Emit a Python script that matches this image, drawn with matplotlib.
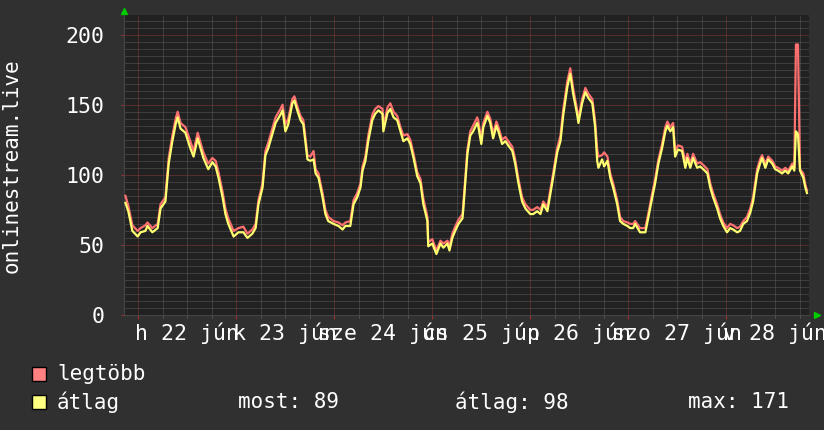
import matplotlib
matplotlib.use('Agg')
import matplotlib.pyplot as plt
from matplotlib.ticker import MultipleLocator

# hours since 22 Jun 00:00
hours = [-3.2, -2.5, -1.5, -0.2, 0.5, 1.7, 2.2, 3.4, 4.7, 5.4, 6.6, 7.4, 8.3, 9.1, 9.6,
         10.3, 11.5, 12.7, 13.5, 14.5, 15.2, 15.9, 17.1, 18.1, 18.9, 19.6, 20.6, 21.3,
         22.0, 23.3, 24.5, 25.7, 26.7, 27.9, 28.7, 29.4, 30.4, 31.1, 31.8, 32.8, 33.6,
         34.8, 35.3, 36.0, 36.7, 37.7, 38.2, 38.9, 39.7, 40.4, 41.4, 42.1, 42.9, 43.4,
         44.1, 45.1, 45.8, 46.5, 47.8, 49.0, 50.0, 50.7, 51.9, 52.7, 53.6, 54.4, 54.9,
         55.6, 56.3, 57.3, 58.0, 58.8, 59.8, 60.0, 61.0, 61.7, 62.5, 63.4, 64.2, 64.9,
         65.9, 66.6, 67.4, 68.3, 69.1, 69.8, 70.8, 71.0, 72.0, 73.0, 74.0, 74.7, 75.7,
         76.2, 76.9, 77.6, 78.4, 79.4, 79.6, 80.6, 81.3, 82.0, 83.0, 83.3, 84.0, 84.5,
         85.5, 86.2, 86.9, 87.7, 88.2, 89.1, 89.9, 90.6, 91.6, 92.3, 93.1, 94.0, 94.8,
         96.0, 96.7, 97.7, 98.5, 99.2, 100.2, 100.9, 101.6, 102.6, 103.4, 104.1, 105.1,
         105.8, 106.5, 107.5, 107.8, 108.7, 109.5, 110.2, 111.2, 111.9, 112.4, 112.7,
         113.6, 114.1, 114.9, 115.6, 116.3, 117.3, 118.0, 118.8, 119.8, 120.5, 121.2,
         121.7, 122.9, 124.2, 124.9, 125.9, 126.6, 127.4, 128.3, 129.1, 129.6, 130.3,
         131.0, 131.5, 132.2, 133.2, 134.0, 134.5, 135.2, 135.9, 136.9, 137.6, 138.4,
         139.4, 140.1, 140.8, 141.8, 142.5, 143.3, 144.2, 145.0, 145.7, 146.7, 147.4,
         148.2, 149.1, 149.9, 150.6, 151.6, 152.3, 152.8, 153.6, 154.3, 155.3, 156.0,
         156.7, 157.7, 158.5, 159.2, 160.2, 160.7, 161.1, 161.6, 162.1, 162.9, 163.4, 163.8]

atlag = [80, 74, 60, 56, 59, 60, 63.5, 59, 62, 76, 81, 108, 124, 136, 141,
         133, 130, 119, 113, 126, 119, 112, 104, 109, 106, 98, 84, 72,
         65, 56, 59, 59, 55, 58, 62, 79, 91, 114, 119, 129, 137,
         143, 146, 131, 136, 151, 153, 146, 139, 136, 111, 110, 111, 101,
         98, 84, 72, 67, 65, 63.5, 61, 63.5, 63.5, 79, 84, 91, 103,
         110, 124, 139, 143.5, 146, 143.5, 131, 144, 147, 141, 139, 131, 124,
         126, 122, 112, 99, 94, 79, 67, 49, 51, 43.5, 51, 48, 51,
         46, 55, 60, 65, 69, 76, 115, 128, 131, 137, 134, 122, 134,
         142, 137, 126, 135, 131, 122, 124, 121, 117, 108, 94, 81, 76,
         72, 72, 74, 72, 79, 74, 86, 98, 116, 124, 143, 163,
         172, 158, 143, 137, 151, 159, 155, 151, 134, 110, 105,
         111, 106, 110, 98, 91, 79, 67, 65, 63.5, 62, 62,
         65, 59, 59, 69, 84, 94, 108, 119, 131, 135, 131,
         134, 113, 118, 117, 105, 112, 105, 112, 105, 106, 104,
         101, 91, 84, 76, 69, 63.5, 59, 62, 61, 59, 60,
         65, 67, 73, 81, 101, 108, 112, 105, 111, 108, 104,
         103, 101, 103, 101, 106, 103, 131, 129, 103, 98, 91, 87]

legtobb = [85, 78, 64, 60, 62, 64, 66, 62, 65, 79, 84, 112, 128, 140, 145,
           137, 134, 124, 117, 130, 123, 116, 108, 112, 110, 102, 88, 76,
           69, 60, 62, 63, 58, 61, 65, 82, 94, 117, 123, 133, 141,
           147, 150, 136, 140, 154, 156, 149, 142, 139, 114, 113, 117, 104,
           101, 87, 75, 70, 67, 66, 64, 66, 67, 82, 87, 94, 106,
           113, 128, 143, 147, 149, 147, 134, 148, 151, 145, 142, 134, 128,
           129, 125, 115, 102, 97, 83, 70, 52, 54, 46, 53, 51, 53,
           49, 58, 63, 68, 72, 79, 118, 131, 135, 141, 138, 125, 137,
           145, 140, 129, 138, 134, 125, 127, 124, 120, 111, 97, 84, 79,
           75, 75, 77, 75, 81, 77, 89, 101, 119, 128, 147, 167,
           176, 162, 146, 140, 154, 162, 158, 154, 138, 118, 113,
           114, 116, 113, 101, 94, 82, 70, 67, 66, 65, 65,
           67, 62, 62, 72, 87, 97, 111, 122, 134, 138, 134,
           137, 117, 121, 120, 109, 115, 108, 115, 108, 109, 107,
           104, 94, 87, 79, 72, 66, 62, 65, 64, 62, 63,
           67, 70, 76, 84, 104, 111, 114, 108, 113, 110, 106,
           105, 103, 105, 103, 108, 105, 193, 193, 104, 101, 93, 89]

day_labels = ['h 22 jún', 'k 23 jún', 'sze 24 jún', 'cs 25 jún', 'p 26 jún', 'szo 27 jún', 'v 28 jún']

BG = '#303030'
CANVAS = '#212121'
MONO = 'DejaVu Sans Mono'

fig = plt.figure(figsize=(8.24, 4.30), dpi=100, facecolor=BG)
ax = fig.add_axes([124 / 824, 1 - 315 / 430, 685 / 824, 300 / 430], facecolor=CANVAS)

ax.set_xlim(-3.55, 164.3)
ax.set_ylim(0, 214)

ax.plot(hours, legtobb, color='#ff7070', lw=1.6, zorder=3)
ax.plot(hours, atlag, color='#ffff70', lw=1.6, zorder=4)

# grid like rrdtool
ax.xaxis.set_major_locator(MultipleLocator(24))
ax.xaxis.set_minor_locator(MultipleLocator(6))
ax.yaxis.set_major_locator(MultipleLocator(50))
ax.yaxis.set_minor_locator(MultipleLocator(5))
ax.grid(which='minor', color='#5c5c5c', lw=0.72, ls=(0, (1, 1)), zorder=1)
ax.grid(which='major', color='#8a3a3a', lw=0.72, ls=(0, (1, 1)), zorder=2)
ax.set_axisbelow(True)

ax.tick_params(axis='x', which='major', length=3, color='#a03030', labelbottom=False)
ax.tick_params(axis='x', which='minor', length=2, color='#606060')
ax.tick_params(axis='y', which='major', length=2, color='#a03030', pad=12,
               labelsize=15.5, labelcolor='white')
ax.tick_params(axis='y', which='minor', length=0)
for lab in ax.get_yticklabels():
    lab.set_family(MONO)

for i, lab in enumerate(day_labels):
    ax.text(12 + 24 * i, -0.025, lab, transform=ax.get_xaxis_transform(),
            ha='center', va='top', color='white', fontsize=15.5, family=MONO)

for s in ['top', 'right']:
    ax.spines[s].set_visible(False)
ax.spines['left'].set_color('#454545')
ax.spines['bottom'].set_color('#454545')

# green arrows on axes
ax.plot([0], [1.015], marker='^', color='#00cc00', ms=5, transform=ax.transAxes, clip_on=False)
ax.plot([1.012], [0], marker='>', color='#00cc00', ms=5, transform=ax.transAxes, clip_on=False)

fig.text(12 / 824, 1 - 166 / 430, 'onlinestream.live', rotation=90, ha='center', va='center',
         color='white', fontsize=15, family=MONO)

# legend
fig.patches.append(plt.Rectangle((32 / 824, 1 - 381 / 430), 14 / 824, 14 / 430,
                                 transform=fig.transFigure, facecolor='#ff8080', edgecolor='black', lw=1))
fig.patches.append(plt.Rectangle((32 / 824, 1 - 409 / 430), 14 / 824, 14 / 430,
                                 transform=fig.transFigure, facecolor='#ffff80', edgecolor='black', lw=1))
fig.text(57 / 824, 1 - 374 / 430, 'legtöbb', color='white', fontsize=15, family=MONO, va='center')
fig.text(57 / 824, 1 - 402 / 430, 'átlag', color='white', fontsize=15, family=MONO, va='center')
fig.text(238 / 824, 1 - 402 / 430, 'most: 89', color='white', fontsize=15, family=MONO, va='center')
fig.text(455 / 824, 1 - 402 / 430, 'átlag: 98', color='white', fontsize=15, family=MONO, va='center')
fig.text(688 / 824, 1 - 402 / 430, 'max: 171', color='white', fontsize=15, family=MONO, va='center')

fig.savefig('out.png', dpi=100, facecolor=BG)
